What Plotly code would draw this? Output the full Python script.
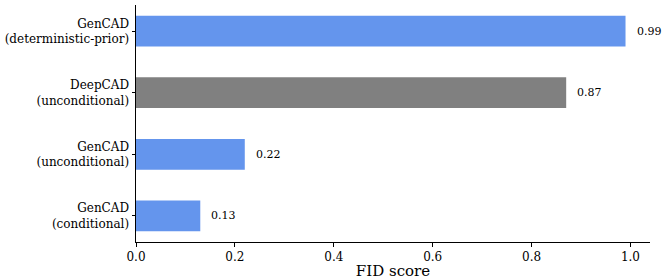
import plotly.graph_objects as go

categories = ["GenCAD<br>(conditional)", "GenCAD<br>(unconditional)",
              "DeepCAD<br>(unconditional)", "GenCAD<br>(deterministic-prior)"]
fid_scores = [0.13, 0.22, 0.87, 0.99]
value_labels = ["0.13", "0.22", "0.87", "0.99"]
bar_colors = ["#6495ED", "#6495ED", "#808080", "#6495ED"]
x_ticks = [0.0, 0.2, 0.4, 0.6, 0.8, 1.0]
x_tick_labels = ["0.0", "0.2", "0.4", "0.6", "0.8", "1.0"]

FONT = "'DejaVu Serif', serif"

fig = go.Figure()
fig.add_trace(go.Bar(
    x=fid_scores, y=list(range(len(categories))), orientation="h",
    width=0.5, marker=dict(color=bar_colors, line=dict(width=0)),
    hoverinfo="skip",
))

for i, (v, t) in enumerate(zip(fid_scores, value_labels)):
    fig.add_annotation(x=v, y=i, text=t, showarrow=False, xanchor="left",
                       xshift=9, font=dict(family=FONT, size=11, color="black"))

fig.update_layout(
    width=664, height=280,
    margin=dict(l=136, r=14, t=5, b=38, autoexpand=False),
    plot_bgcolor="white", paper_bgcolor="white",
    showlegend=False,
    font=dict(family=FONT, size=11, color="black"),
    xaxis=dict(
        range=[0, 1.0395], tickvals=x_ticks, ticktext=x_tick_labels,
        showgrid=False, zeroline=False, showline=True, linecolor="black",
        linewidth=1, ticks="outside", ticklen=3.5, tickwidth=1, tickcolor="black",
        tickfont=dict(family=FONT, size=12),
        title=dict(text="FID score", font=dict(family=FONT, size=15), standoff=2),
    ),
    yaxis=dict(
        range=[-0.425, 3.425], tickvals=list(range(len(categories))),
        ticktext=categories, showgrid=False, zeroline=False, showline=True,
        linecolor="black", linewidth=1, ticks="outside", ticklen=3.5,
        tickwidth=1, tickcolor="black", tickfont=dict(family=FONT, size=12),
    ),
)

fig.write_html("out.html", config={"displayModeBar": False},
               post_script="document.body.style.margin='0';")
